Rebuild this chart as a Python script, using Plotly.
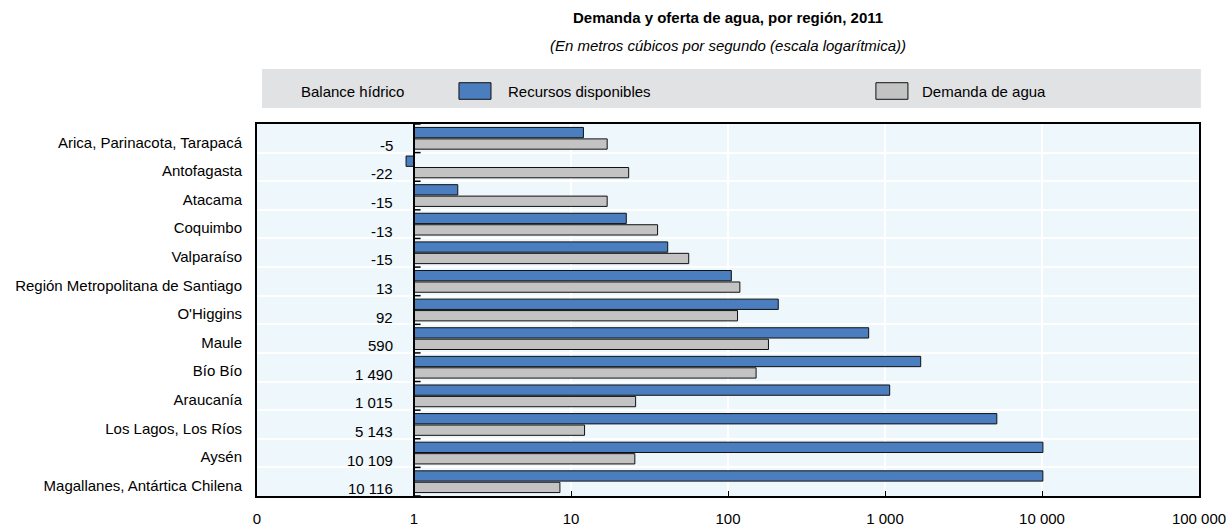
import plotly.graph_objects as go

regions = [
    "Arica, Parinacota, Tarapacá", "Antofagasta", "Atacama", "Coquimbo", "Valparaíso",
    "Región Metropolitana de Santiago", "O'Higgins", "Maule", "Bío Bío", "Araucanía",
    "Los Lagos, Los Ríos", "Aysén", "Magallanes, Antártica Chilena",
]
recursos = [12, 0.89, 1.9, 22.5, 41.3, 105, 209, 787, 1688, 1071, 5155, 10134, 10125]
demanda = [17, 23.3, 17, 35.6, 56.2, 119, 115, 181, 151, 25.8, 12.2, 25.5, 8.5]
balance = ["-5", "-22", "-15", "-13", "-15", "13", "92", "590", "1 490", "1 015", "5 143", "10 109", "10 116"]

tick_vals = [0.1, 1, 10, 100, 1000, 10000, 100000]
tick_text = ["0", "1", "10", "100", "1 000", "10 000", "100 000"]

BASE = 1
BLUE = "#4A7EBF"
GRAY = "#C3C3C3"
FONT = "Liberation Sans, Arial, sans-serif"

fig = go.Figure()
fig.add_trace(go.Bar(y=regions, x=[v - BASE for v in recursos], base=BASE, orientation="h",
                     name="Recursos disponibles",
                     marker=dict(color=BLUE, line=dict(color="#111111", width=1)), showlegend=False))
fig.add_trace(go.Bar(y=regions, x=[v - BASE for v in demanda], base=BASE, orientation="h",
                     name="Demanda de agua",
                     marker=dict(color=GRAY, line=dict(color="#111111", width=1)), showlegend=False))

shapes = []
# legend band
shapes.append(dict(type="rect", xref="paper", yref="paper", x0=0.0053, x1=1.002, y0=1.043, y1=1.148,
                   fillcolor="#E1E2E4", line=dict(width=0), layer="below"))
shapes.append(dict(type="rect", xref="paper", yref="paper", x0=0.2144, x1=0.2484, y0=1.0664, y1=1.111,
                   fillcolor=BLUE, line=dict(color="#111111", width=1)))
shapes.append(dict(type="rect", xref="paper", yref="paper", x0=0.657, x1=0.691, y0=1.0664, y1=1.111,
                   fillcolor=GRAY, line=dict(color="#111111", width=1)))
# black line at value 1
shapes.append(dict(type="line", xref="x domain", yref="paper", x0=1/6, x1=1/6, y0=0, y1=1,
                   line=dict(color="black", width=2)))
# small ticks at category boundaries
for i in range(len(regions) + 1):
    shapes.append(dict(type="line", xref="x domain", yref="y", x0=1/6, x1=1/6 + 0.007,
                       y0=i - 0.5, y1=i - 0.5, line=dict(color="black", width=1.5)))

annotations = [
    dict(text="<b>Demanda y oferta de agua, por región, 2011</b>", xref="paper", yref="paper",
         x=0.5, y=1.285, xanchor="center", yanchor="middle", showarrow=False,
         font=dict(size=15, color="black", family=FONT)),
    dict(text="<i>(En metros cúbicos por segundo (escala logarítmica))</i>", xref="paper", yref="paper",
         x=0.5, y=1.2097, xanchor="center", yanchor="middle", showarrow=False,
         font=dict(size=15, color="black", family=FONT)),
    dict(text="Balance hídrico", xref="paper", yref="paper", x=0.045, y=1.0887, xanchor="left",
         yanchor="middle", showarrow=False, font=dict(size=15, color="black", family=FONT)),
    dict(text="Recursos disponibles", xref="paper", yref="paper", x=0.2643, y=1.0887, xanchor="left",
         yanchor="middle", showarrow=False, font=dict(size=15, color="black", family=FONT)),
    dict(text="Demanda de agua", xref="paper", yref="paper", x=0.7038, y=1.0887, xanchor="left",
         yanchor="middle", showarrow=False, font=dict(size=15, color="black", family=FONT)),
]
for r, b in zip(regions, balance):
    annotations.append(dict(text=b, xref="x domain", yref="y", x=0.1465, y=r, xanchor="right",
                            yanchor="middle", yshift=-7, showarrow=False,
                            font=dict(size=15, color="black", family=FONT)))

fig.update_layout(
    width=1228, height=528,
    margin=dict(l=257, r=29, t=124, b=32),
    paper_bgcolor="white", plot_bgcolor="#EEF7FB",
    barmode="group", bargap=0.2, bargroupgap=0.1,
    font=dict(family=FONT, size=15, color="black"),
    shapes=shapes, annotations=annotations,
    xaxis=dict(type="log", range=[-1, 5], tickvals=tick_vals, ticktext=tick_text,
               showgrid=True, gridcolor="white", gridwidth=2,
               showline=True, linecolor="black", linewidth=2, mirror=True,
               ticks="inside", ticklen=5, tickcolor="black", ticklabelstandoff=8,
               automargin=False, fixedrange=True),
    yaxis=dict(range=[len(regions) - 0.5, -0.5], autorange=False, tickson="boundaries",
               showgrid=True, gridcolor="white", gridwidth=2,
               showline=True, linecolor="black", linewidth=2, mirror=True,
               ticks="", ticklabelstandoff=10, ticklabelshift=-4,
               automargin=False, fixedrange=True),
)

fig.write_html("out.html", config={"displayModeBar": False, "staticPlot": True},
               post_script="document.body.style.margin='0px';document.body.style.overflow='hidden';")
